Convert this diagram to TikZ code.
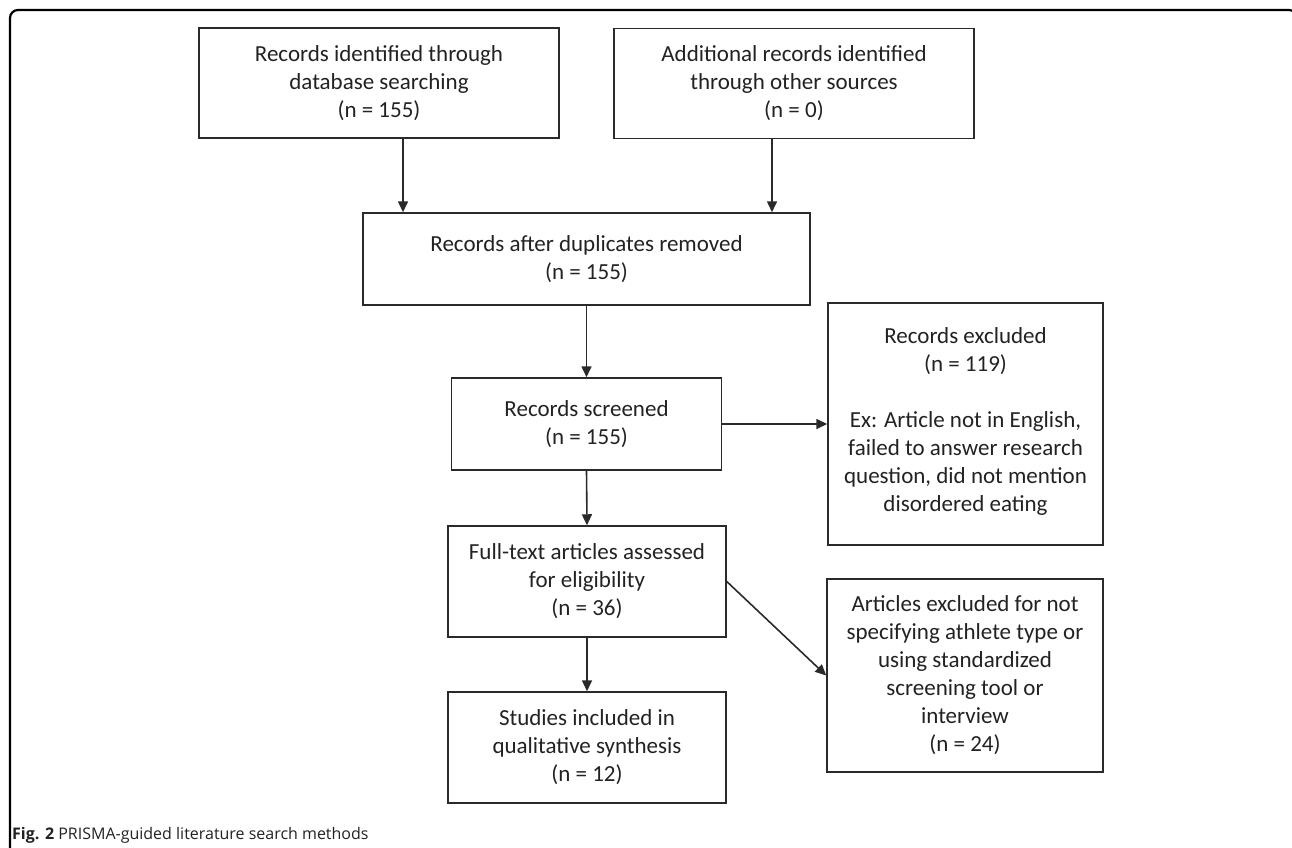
\documentclass[tikz,border=0pt]{standalone}
\usepackage{fontspec}
\setmainfont{Carlito}
\newfontfamily\capfont{Open Sans}
\usetikzlibrary{arrows.meta}
\definecolor{ink}{HTML}{222222}
\definecolor{edge}{HTML}{2A2A2A}
\tikzset{
  box/.style={draw=edge, line width=1.5pt, rectangle, align=center, text=ink,
    font=\fontsize{23}{28}\selectfont, inner sep=0pt},
  arr/.style={draw=edge, line width=1.6pt, -{Triangle[length=11pt,width=10pt]}},
  frameline/.style={draw=black, line width=2.2pt},
}
\begin{document}
\begin{tikzpicture}[x=1pt,y=-1pt]
\useasboundingbox (0,0) rectangle (1292,847);
\clip (0,0) rectangle (1292,847);
\draw[frameline, rounded corners=8pt] (10,870) -- (10,10) -- (1297,10) -- (1297,870);

\node[box, minimum width=360pt, minimum height=110pt] (b1) at (379,83)
  {Records identified through\\ database searching\\ (n = 155)};
\node[box, minimum width=360pt, minimum height=110pt] (b2) at (794,83.5)
  {Additional records identified\\ through other sources\\ (n = 0)};
\node[box, minimum width=447pt, minimum height=92pt] (b3) at (586.5,259)
  {Records after duplicates removed\\ (n = 155)};
\node[box, minimum width=270pt, minimum height=92pt] (b4) at (586.5,424)
  {Records screened\\ (n = 155)};
\node[box, minimum width=275pt, minimum height=242pt] (b5) at (965.5,424)
  {Records excluded\\ (n = 119)\\[28pt] Ex: Article not in English,\\ failed to answer research\\ question, did not mention\\ disordered eating\rule[-8pt]{0pt}{8pt}};
\node[box, minimum width=278pt, minimum height=111pt] (b6) at (587,581.5)
  {Full-text articles assessed\\ for eligibility\\ (n = 36)};
\node[box, minimum width=278pt, minimum height=111pt] (b7) at (587,747.5)
  {Studies included in\\ qualitative synthesis\\ (n = 12)};
\node[box, minimum width=276pt, minimum height=193pt] (b8) at (965,675.5)
  {Articles excluded for not\\ specifying athlete type or\\ using standardized\\ screening tool or\\ interview\\ (n = 24)};

\coordinate (c1) at (403,0);
\coordinate (c2) at (772,0);
\draw[arr] (b1.south -| c1) -- (b3.north -| c1);
\draw[arr] (b2.south -| c2) -- (b3.north -| c2);
\draw[arr] (b3.south) -- (b4.north);
\draw[arr] (b4.east) -- (b4.east -| b5.west);
\draw[arr] (b4.south) -- (b6.north);
\draw[arr] (b6.east) -- (b8.west);
\draw[arr] (b6.south) -- (b7.north);

\node[anchor=base west, inner sep=0pt, text=ink, font=\capfont\fontsize{16}{19}\selectfont] (cap) at (12,839)
  {\textbf{Fig. 2} PRISMA-guided literature search methods};
\end{tikzpicture}
\end{document}
